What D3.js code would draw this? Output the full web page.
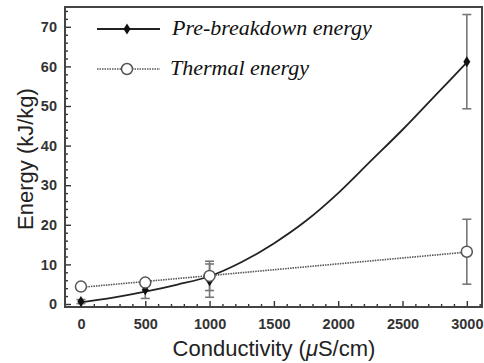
<!DOCTYPE html>
<html><head><meta charset="utf-8">
<script src="https://cdn.jsdelivr.net/npm/d3@7"></script>
<style>body{margin:0;background:#fff}svg{display:block}</style>
</head><body>
<script>
// Data
const conductivity = [0, 500, 1000, 3000];
const preEnergy = [0.6, 3.6, 5.9, 61.2];
const preErr = [0.5, 2.2, 4.2, 11.9];
const thermalEnergy = [4.4, 5.4, 7.1, 13.2];
const thermalErr = [0.3, 0.5, 3.7, 8.2];
// fitted curves
const preFitX = [0, 250, 500, 750, 1000, 1250, 1500, 1750, 2000, 2250, 2500, 2750, 3000];
const preFitY = [0.4, 1.6, 3.1, 4.9, 7.0, 10.6, 15.3, 21.0, 28.0, 36.0, 44.0, 52.5, 61.0];
const thermalFitX = [0, 3000];
const thermalFitY = [4.2, 13.1];
const xTicks = [0, 500, 1000, 1500, 2000, 2500, 3000];
const yTicks = [0, 10, 20, 30, 40, 50, 60, 70];
const legendLabels = ["Pre-breakdown energy", "Thermal energy"];

const W = 484, H = 363;
const L = 65, T = 7, R = 482, B = 307;
const svg = d3.select("body").append("svg").attr("width", W).attr("height", H);

const x = d3.scaleLinear().domain([-124, 3118]).range([L, R]);
const y = d3.scaleLinear().domain([-0.76, 75]).range([B, T]);

// minor ticks
const xMinor = d3.range(0, 3101, 100).filter(v => v % 500 !== 0);
const yMinor = d3.range(0, 75, 2).filter(v => v % 10 !== 0);

const gx = svg.append("g").attr("transform", `translate(0,${B})`);
gx.call(d3.axisTop(x).tickValues(xMinor).tickSize(3).tickFormat(""));
gx.select(".domain").remove();
const gx2 = svg.append("g").attr("transform", `translate(0,${B})`);
gx2.call(d3.axisTop(x).tickValues(xTicks).tickSize(6).tickFormat(""));
gx2.select(".domain").remove();
const gxl = svg.append("g").attr("transform", `translate(0,${B})`);
gxl.call(d3.axisBottom(x).tickValues(xTicks).tickSize(0).tickPadding(12).tickFormat(d3.format("d")));
gxl.select(".domain").remove();

const gy = svg.append("g").attr("transform", `translate(${L},0)`);
gy.call(d3.axisRight(y).tickValues(yMinor).tickSize(3).tickFormat(""));
gy.select(".domain").remove();
const gy2 = svg.append("g").attr("transform", `translate(${L},0)`);
gy2.call(d3.axisRight(y).tickValues(yTicks).tickSize(6).tickFormat(""));
gy2.select(".domain").remove();
const gyl = svg.append("g").attr("transform", `translate(${L},0)`);
gyl.call(d3.axisLeft(y).tickValues(yTicks).tickSize(0).tickPadding(8).tickFormat(d3.format("d")));
gyl.select(".domain").remove();

svg.selectAll(".tick line").attr("stroke", "#333").attr("stroke-width", 1.4);
svg.selectAll(".tick text").attr("font-family", "Liberation Sans, Arial, sans-serif")
  .attr("font-size", 14.5).attr("font-weight", "bold").attr("fill", "#333");

// frame
svg.append("rect").attr("x", L).attr("y", T).attr("width", R - L).attr("height", B - T)
  .attr("fill", "none").attr("stroke", "#444").attr("stroke-width", 2);

// fit lines
const line = d3.line().x(d => x(d[0])).y(d => y(d[1])).curve(d3.curveMonotoneX);
svg.append("path").datum(thermalFitX.map((v, i) => [v, thermalFitY[i]]))
  .attr("d", line).attr("fill", "none").attr("stroke", "#555").attr("stroke-width", 1.6)
  .attr("stroke-dasharray", "1.5,1");
svg.append("path").datum(preFitX.map((v, i) => [v, preFitY[i]]))
  .attr("d", line).attr("fill", "none").attr("stroke", "#222").attr("stroke-width", 1.8);

// error bars
function errBars(vals, errs) {
  const g = svg.append("g").attr("stroke", "#777").attr("stroke-width", 1.6);
  conductivity.forEach((c, i) => {
    const cx = x(c), y1 = y(vals[i] - errs[i]), y2 = y(vals[i] + errs[i]);
    g.append("line").attr("x1", cx).attr("x2", cx).attr("y1", y1).attr("y2", y2);
    g.append("line").attr("x1", cx - 4.5).attr("x2", cx + 4.5).attr("y1", y1).attr("y2", y1);
    g.append("line").attr("x1", cx - 4.5).attr("x2", cx + 4.5).attr("y1", y2).attr("y2", y2);
  });
}
errBars(preEnergy, preErr);
errBars(thermalEnergy, thermalErr);

const diamond = (cx, cy) => `M${cx},${cy - 5.5}L${cx + 3.5},${cy}L${cx},${cy + 5.5}L${cx - 3.5},${cy}Z`;
svg.append("g").selectAll("path").data(conductivity).join("path")
  .attr("d", (c, i) => diamond(x(c), y(preEnergy[i]))).attr("fill", "#111");
svg.append("g").selectAll("circle").data(conductivity).join("circle")
  .attr("cx", c => x(c)).attr("cy", (c, i) => y(thermalEnergy[i])).attr("r", 5.5)
  .attr("fill", "#fff").attr("stroke", "#555").attr("stroke-width", 1.5);

// legend
const lg = svg.append("g");
lg.append("line").attr("x1", 97).attr("x2", 160).attr("y1", 29).attr("y2", 29)
  .attr("stroke", "#222").attr("stroke-width", 1.8);
lg.append("path").attr("d", diamond(127, 29)).attr("fill", "#111");
lg.append("line").attr("x1", 97).attr("x2", 160).attr("y1", 69).attr("y2", 69)
  .attr("stroke", "#555").attr("stroke-width", 1.6).attr("stroke-dasharray", "1.5,1");
lg.append("circle").attr("cx", 127).attr("cy", 69).attr("r", 5.5)
  .attr("fill", "#fff").attr("stroke", "#555").attr("stroke-width", 1.5);
lg.selectAll("text").data(legendLabels).join("text")
  .attr("x", (d, i) => i === 0 ? 172 : 170).attr("y", (d, i) => i === 0 ? 35 : 75)
  .attr("font-family", "Liberation Serif, Times New Roman, serif").attr("font-style", "italic")
  .attr("font-size", 22).attr("fill", "#111").text(d => d);

// axis titles
svg.append("text").attr("x", 274).attr("y", 356).attr("text-anchor", "middle")
  .attr("font-family", "Liberation Sans, Arial, sans-serif").attr("font-size", 22).attr("fill", "#222")
  .call(t => {
    t.append("tspan").text("Conductivity (");
    t.append("tspan").attr("font-style", "italic").text("μ");
    t.append("tspan").text("S/cm)");
  });
svg.append("text").attr("transform", "translate(33,159) rotate(-90)").attr("text-anchor", "middle")
  .attr("font-family", "Liberation Sans, Arial, sans-serif").attr("font-size", 22).attr("fill", "#222")
  .text("Energy (kJ/kg)");
</script>
</body></html>
